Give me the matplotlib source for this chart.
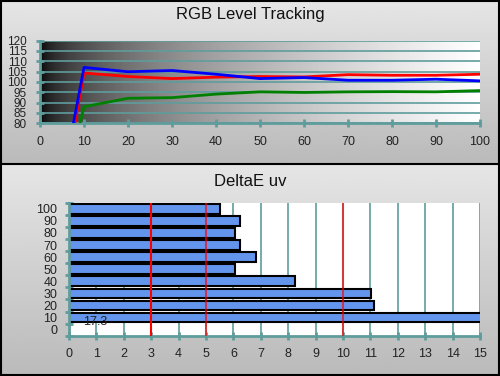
import numpy as np
import matplotlib.pyplot as plt
from matplotlib.patches import Rectangle

plt.rcParams['font.family'] = ['Liberation Sans', 'DejaVu Sans']

# RGB level tracking data
levels = [0, 10, 20, 30, 40, 50, 60, 70, 80, 90, 100]
red = [-15, 104.3, 102.6, 101.6, 102.3, 102.6, 102.4, 103.5, 103.2, 103.2, 103.7]
green = [-1, 88.0, 92.1, 92.4, 94.1, 95.2, 94.9, 95.2, 95.3, 95.2, 95.8]
blue = [-5, 107.0, 104.9, 105.5, 103.7, 101.6, 102.1, 100.8, 100.8, 101.3, 100.5]

# DeltaE uv data
de_labels = ["0", "10", "20", "30", "40", "50", "60", "70", "80", "90", "100"]
de_values = [17.3, 11.14, 11.03, 8.26, 6.07, 6.81, 6.25, 6.07, 6.25, 5.52]
ref_lines = [3, 5, 10]

teal = "#5f9c9c"
W, H = 500, 376
fig = plt.figure(figsize=(W / 100, H / 100), dpi=100)

# panel backgrounds
bg = fig.add_axes([0, 0, 1, 1])
bg.set_xlim(0, W)
bg.set_ylim(H, 0)
bg.axis("off")
grad = np.linspace(0.9, 0.73, 100).reshape(-1, 1)
bg.imshow(grad, cmap="gray", vmin=0, vmax=1, extent=[0, W, 163, 0], aspect="auto")
bg.imshow(grad, cmap="gray", vmin=0, vmax=1, extent=[0, W, H, 164], aspect="auto")
bg.plot([0, W], [163.5, 163.5], color="black", lw=1.5)
bg.add_patch(Rectangle((0.5, 0.5), W - 1.5, H - 1.5, fill=False, ec="black", lw=1.5))
bg.text(250, 14, "RGB Level Tracking", ha="center", va="center", fontsize=12, color="#111")
bg.text(250, 181, "DeltaE uv", ha="center", va="center", fontsize=12, color="#111")

# top chart
ax1 = fig.add_axes([40 / W, 1 - 123.3 / H, 440 / W, 82.8 / H])
xg = np.linspace(0, 1, 256) ** 0.5
ax1.imshow(xg.reshape(1, -1), cmap="gray", vmin=0, vmax=1, extent=[0, 100, 80, 120], aspect="auto", zorder=0)
ax1.plot(levels, green, color="#008000", lw=2, zorder=3)
ax1.plot(levels, red, color="#ff0000", lw=2, zorder=3)
ax1.plot(levels, blue, color="#0000ff", lw=2, zorder=3)
ax1.set_xlim(0, 100)
ax1.set_ylim(80, 120)
ax1.set_xticks(range(0, 101, 10))
ax1.set_yticks(range(80, 121, 5))
ax1.yaxis.grid(True, color=teal, lw=1.2, zorder=1)
ax1.set_axisbelow(False)
for s in ["top", "right"]:
    ax1.spines[s].set_visible(False)
for s in ["left", "bottom"]:
    ax1.spines[s].set_color(teal)
    ax1.spines[s].set_linewidth(2)
ax1.tick_params(axis="both", direction="inout", length=6, width=2, color=teal,
                labelsize=9, labelcolor="#222")
ax1.tick_params(axis="x", pad=6)
ax1.tick_params(axis="y", pad=6.5, labelsize=8.5)

# bottom chart
ax2 = fig.add_axes([69 / W, 1 - 335.7 / H, 411 / W, 133 / H])
ypos = np.arange(len(de_labels))
ax2.barh(ypos[1:], de_values, height=0.8, color="#6495ed", edgecolor="black", lw=1.5, zorder=2)
for v in ref_lines:
    ax2.axvline(v, color="red", lw=1.5, alpha=1 if v == 3 else 0.65, zorder=3)
ax2.text(0.5, 0.63, "17.3", fontsize=9, va="center", ha="left", color="#222", zorder=4)
ax2.set_xlim(0, 15)
ax2.set_ylim(-0.5, len(de_labels) - 0.5)
ax2.set_xticks(range(0, 16))
ax2.xaxis.grid(True, color=teal, lw=1.2, zorder=1)
ax2.set_axisbelow(True)
ax2.set_yticks(np.arange(-0.5, len(de_labels), 1))
ax2.set_yticklabels([])
ax2.set_yticks(ypos, minor=True)
ax2.set_yticklabels(de_labels, minor=True)
ax2.tick_params(axis="y", which="minor", length=0, labelsize=9, labelcolor="#222", pad=8.5)
for s in ["top", "right"]:
    ax2.spines[s].set_visible(False)
for s in ["left", "bottom"]:
    ax2.spines[s].set_color(teal)
    ax2.spines[s].set_linewidth(2)
ax2.tick_params(axis="both", which="major", direction="inout", length=6, width=2, color=teal,
                labelsize=9, labelcolor="#222")
ax2.tick_params(axis="x", pad=6)

fig.savefig("out.png", dpi=100)
